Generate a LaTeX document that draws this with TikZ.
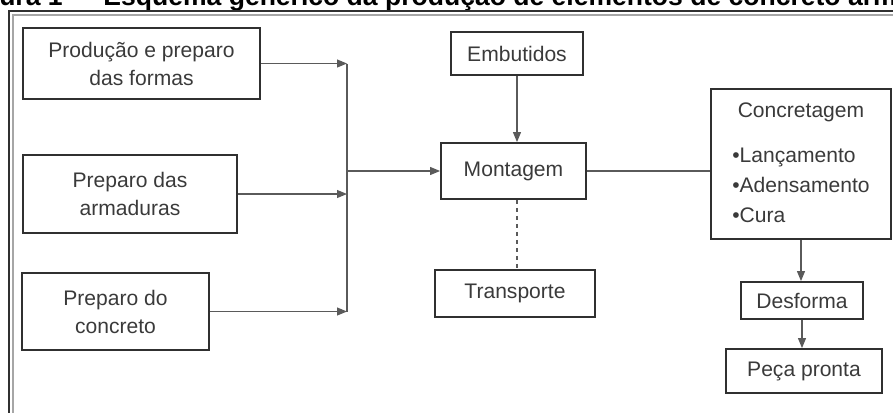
\documentclass[tikz,border=0pt]{standalone}
\usepackage{fontspec}
\setmainfont{Liberation Sans}
\usepackage{tikz}
\usetikzlibrary{positioning}
\usetikzlibrary{arrows.meta}
\definecolor{boxline}{HTML}{303030}
\definecolor{inkgray}{HTML}{3A3A3A}
\definecolor{wiregray}{HTML}{5A5A5A}
\tikzset{x=0.75pt, y=-0.75pt,
box/.style={ % caixas das etapas
draw=boxline,
line width=1.4pt,
text=inkgray,
align=center,
inner sep=2pt,
font=\fontsize{15.8}{21}\selectfont},
wire/.style={ % ligacoes simples
draw=wiregray,
line width=0.8pt},
flow/.style={ % ligacoes com seta
wire,
-{Triangle[length=7.5pt,width=6pt]}}}

\begin{document}
\begin{tikzpicture}
\clip (0,0) rectangle (893,412);
% titulo (cortado no topo)
\node[anchor=base west, inner sep=0pt, font=\bfseries\fontsize{19.9}{24}\selectfont] (titulo) at (-1,5) {ura 1 --\hspace{14pt}Esquema genérico da produção de elementos de concreto arm};
% moldura dupla
\draw[boxline, line width=1.3pt] (9,11) rectangle (920,430);
\draw[gray!70, line width=0.8pt] (13,15) rectangle (920,430);
% etapas
\node[box, minimum width=177.75pt, minimum height=53.25pt] (formas) at (141.5,63.5) {Produção e preparo\\das formas};
\node[box, minimum width=160.5pt, minimum height=58.5pt] (armaduras) at (130,194) {Preparo das\\armaduras};
\node[box, minimum width=140.25pt, minimum height=57.75pt] (concreto) at (115.5,311.5) {Preparo do\\concreto};
\node[box, minimum width=99pt, minimum height=32.25pt] (embutidos) at (517,53.5) {Embutidos};
\node[box, minimum width=108.75pt, minimum height=42pt] (montagem) at (513.5,171) {Montagem};
\node[box, minimum width=120pt, minimum height=35.25pt] (transporte) at (515,293.5) {Transporte};
\node[box, minimum width=135pt, minimum height=112.5pt] (concretagem) at (801,164) {\renewcommand\arraystretch{1.07}\begin{tabular}{@{}l@{}}\multicolumn{1}{@{}c@{}}{Concretagem}\\[11pt]•Lançamento\\•Adensamento\\•Cura\end{tabular}};
\node[box, minimum width=91.5pt, minimum height=27.75pt] (desforma) at (802,300.5) {Desforma};
\node[box, minimum width=117pt, minimum height=33pt] (peca) at (804,371) {Peça pronta};
% ligacoes
\coordinate (bus) at (347,171);
\draw[wire] (bus |- formas.east) -- (bus |- concreto.east);
\draw[flow] (formas.east) -- (formas.east -| bus);
\draw[flow] (armaduras.east) -- (armaduras.east -| bus);
\draw[flow] (concreto.east) -- (concreto.east -| bus);
\draw[flow] (bus) -- (montagem.west);
\draw[flow] (embutidos.south) -- (embutidos.south |- montagem.north);
\draw[wire] (montagem.east) -- (montagem.east -| concretagem.west);
\draw[wire, dashed] (embutidos.south |- montagem.south) -- (embutidos.south |- transporte.north);
\draw[flow] (concretagem.south) -- (concretagem.south |- desforma.north);
\draw[flow] (desforma.south) -- (desforma.south |- peca.north);
\end{tikzpicture}
\end{document}
